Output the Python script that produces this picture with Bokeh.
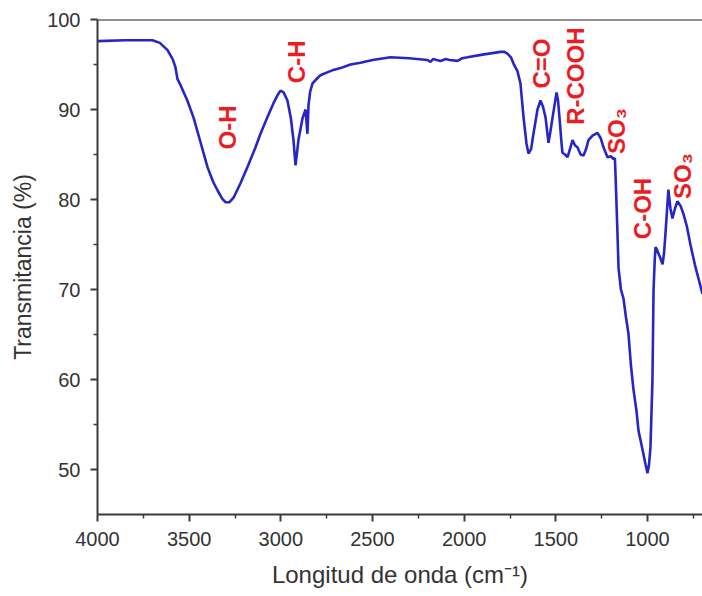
from bokeh.plotting import figure
from bokeh.models import Range1d, FixedTicker, Span, ColumnDataSource
from bokeh.core.properties import value
from bokeh.embed import file_html
from bokeh.resources import INLINE
import math

# ---- data ----
wavenumber = [4000, 3850, 3700, 3660, 3618, 3590, 3575, 3564, 3547, 3510, 3476, 3440, 3400, 3370,
              3345, 3320, 3302, 3280, 3258, 3220, 3182, 3140, 3111, 3070, 3040, 3015, 3002, 2985,
              2964, 2945, 2931, 2920, 2910, 2904, 2882, 2865, 2855, 2849, 2840, 2827, 2800, 2784,
              2750, 2713, 2675, 2620, 2565, 2500, 2402, 2300, 2200, 2184, 2170, 2150, 2129, 2100,
              2080, 2036, 2010, 1982, 1900, 1802, 1780, 1764, 1745, 1731, 1710, 1693, 1676, 1660,
              1649, 1635, 1622, 1600, 1584, 1570, 1556, 1540, 1530, 1518, 1496, 1488, 1480, 1470,
              1464, 1450, 1436, 1420, 1409, 1395, 1382, 1365, 1349, 1335, 1322, 1300, 1273, 1255,
              1240, 1218, 1200, 1185, 1178, 1174, 1165, 1158, 1145, 1131, 1118, 1104, 1090, 1076,
              1060, 1049, 1025, 1010, 1000, 992, 984, 973, 967, 960, 956, 948, 940, 930, 918, 910,
              902, 886, 875, 864, 850, 837, 820, 804, 785, 767, 742, 700]
transmittance = [97.6, 97.7, 97.7, 97.4, 96.6, 95.6, 94.7, 93.4, 92.7, 91.0, 89.1, 86.5, 83.6, 82.0,
                 81.0, 80.1, 79.7, 79.7, 80.2, 81.8, 83.6, 85.7, 87.3, 89.3, 90.7, 91.7, 92.1, 91.9,
                 91.0, 89.0, 86.6, 83.8, 85.5, 86.6, 89.0, 90.0, 87.3, 90.5, 92.0, 92.9, 93.5, 93.8,
                 94.1, 94.4, 94.6, 95.0, 95.2, 95.5, 95.8, 95.7, 95.5, 95.3, 95.6, 95.5, 95.4, 95.6,
                 95.5, 95.4, 95.7, 95.8, 96.1, 96.4, 96.4, 96.2, 95.8, 95.1, 94.3, 92.9, 89.1, 86.2,
                 85.1, 85.6, 87.3, 90.0, 91.0, 90.3, 89.1, 86.3, 87.5, 89.1, 91.9, 91.0, 89.1, 86.5,
                 85.2, 85.0, 84.7, 85.8, 86.6, 86.0, 85.8, 85.0, 84.9, 85.6, 86.6, 87.1, 87.4, 86.8,
                 85.8, 84.7, 84.8, 84.5, 84.6, 82.5, 77.0, 72.4, 70.0, 69.0, 67.0, 65.1, 61.5, 58.8,
                 56.5, 54.3, 52.0, 50.5, 49.6, 50.5, 52.4, 59.9, 70.0, 73.5, 74.7, 74.4, 74.0, 73.5,
                 72.8, 74.0, 76.2, 81.1, 79.0, 77.9, 79.0, 79.8, 79.3, 78.4, 77.0, 75.1, 72.8, 69.5]

band_labels = ["O-H", "C-H", "C=O", "R-COOH", "SO\u2083", "C-OH", "SO\u2083"]
band_x = [3291, 2915, 1578, 1393, 1169, 1027, 809]
band_y = [88.0, 95.3, 95.1, 93.7, 87.6, 79.0, 82.6]

x_ticks = [4000, 3500, 3000, 2500, 2000, 1500, 1000]
x_minor = [3750, 3250, 2750, 2250, 1750, 1250, 750]
y_ticks = [50, 60, 70, 80, 90, 100]
y_minor = [55, 65, 75, 85, 95]

FONT = "Liberation Sans"
AXIS_COLOR = "#3a3a3a"

p = figure(width=702, height=596, output_backend="svg", toolbar_location=None,
           x_range=Range1d(4000, 700), y_range=Range1d(45, 100),
           min_border_left=97, min_border_top=19, min_border_bottom=82, min_border_right=0)

p.outline_line_color = None
p.xgrid.visible = False
p.ygrid.visible = False
p.background_fill_color = "white"
p.border_fill_color = "white"

src = ColumnDataSource(dict(x=wavenumber, y=transmittance))
p.line("x", "y", source=src, line_color="#2626c8", line_width=2.6)

lab = ColumnDataSource(dict(x=band_x, y=band_y, t=band_labels))
p.text("x", "y", text="t", source=lab, angle=math.pi / 2,
       text_font=value(FONT), text_font_style="bold", text_font_size="24px",
       text_color="#ec1c24", text_align="center", text_baseline="middle")

top = Span(location=100, dimension="width", line_color="#222222", line_width=2)
p.add_layout(top)

for ax in (p.xaxis[0], p.yaxis[0]):
    ax.axis_line_color = AXIS_COLOR
    ax.axis_line_width = 2
    ax.major_tick_line_color = AXIS_COLOR
    ax.major_tick_line_width = 2
    ax.minor_tick_line_color = AXIS_COLOR
    ax.minor_tick_line_width = 1.5
    ax.major_tick_in = 0
    ax.major_tick_out = 7
    ax.minor_tick_in = 0
    ax.minor_tick_out = 4
    ax.major_label_text_font = FONT
    ax.major_label_text_font_size = "20px"
    ax.major_label_text_color = "#333333"
    ax.axis_label_text_font = FONT
    ax.axis_label_text_font_style = "normal"
    ax.axis_label_text_color = "#333333"

p.xaxis.ticker = FixedTicker(ticks=x_ticks, minor_ticks=x_minor)
p.yaxis.ticker = FixedTicker(ticks=y_ticks, minor_ticks=y_minor)
p.xaxis.major_label_standoff = 10
p.yaxis.major_label_standoff = 10
p.xaxis.axis_label = "Longitud de onda (cm\u207b\u00b9)"
p.yaxis.axis_label = "Transmitancia (%)"
p.xaxis.axis_label_text_font_size = "24px"
p.yaxis.axis_label_text_font_size = "23px"
p.xaxis.axis_label_standoff = 12
p.yaxis.axis_label_standoff = 8

open("out.html", "w").write(file_html(p, INLINE))
